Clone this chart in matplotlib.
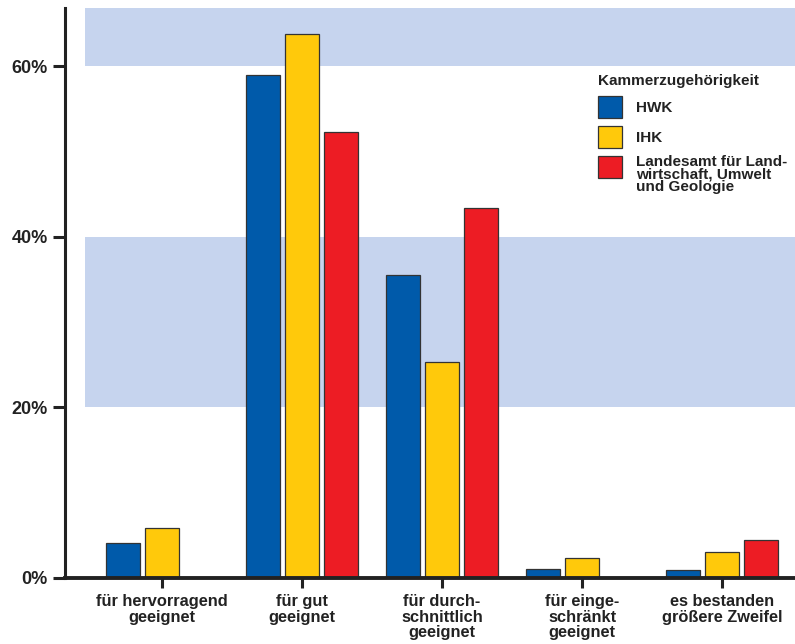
import numpy as np
import matplotlib.pyplot as plt
from matplotlib.patches import Rectangle

# Kategorien und Anteile (in %) je Kammer
kategorien = ['für hervorragend\ngeeignet', 'für gut\ngeeignet', 'für durch-\nschnittlich\ngeeignet',
              'für einge-\nschränkt\ngeeignet', 'es bestanden\ngrößere Zweifel']
hwk = [4.1, 59.0, 35.5, 1.1, 0.95]
ihk = [5.9, 63.8, 25.3, 2.3, 3.0]
landesamt = [np.nan, 52.3, 43.4, np.nan, 4.45]

serien = ['HWK', 'IHK', 'Landesamt für Land-\nwirtschaft, Umwelt\nund Geologie']
farben = ['#005aaa', '#ffc90b', '#ed1c24']
y_ticks = [0, 20, 40, 60]

plt.rcParams['font.family'] = ['Liberation Sans', 'DejaVu Sans']

W, H = 795, 644
fig = plt.figure(figsize=(W / 100, H / 100), dpi=100)
ax = fig.add_axes([65 / W, 1 - 578 / H, 1 - 65 / W, (578 - 8) / H])

# Hintergrundbänder
band = '#c6d4ee'
ax.axhspan(20, 40, xmin=0.027, xmax=1, color=band, lw=0, zorder=0)
ax.axhspan(60, 70, xmin=0.027, xmax=1, color=band, lw=0, zorder=0)

x = np.arange(len(kategorien))
breite = 0.243
abstand = 0.279
for i, (werte, farbe) in enumerate(zip([hwk, ihk, landesamt], farben)):
    ax.bar(x + (i - 1) * abstand, werte, width=breite, color=farbe,
           edgecolor='#333333', linewidth=0.9, zorder=2)

ax.set_xlim(-0.693, 4.52)
ax.set_ylim(0, 66.8)

ax.set_yticks(y_ticks)
ax.set_yticklabels([f'{v}%' for v in y_ticks], fontsize=13, fontweight='bold', color='#222222')
ax.set_xticks(x)
ax.set_xticklabels(kategorien, fontsize=11.8, fontweight='bold', color='#222222', linespacing=1.05)

for s in ['top', 'right']:
    ax.spines[s].set_visible(False)
ax.spines['left'].set_linewidth(2.2)
ax.spines['bottom'].set_linewidth(2.8)
ax.spines['left'].set_color('#222222')
ax.spines['bottom'].set_color('#222222')
ax.tick_params(axis='y', length=8.5, width=2.2, pad=4, color='#222222')
ax.tick_params(axis='x', length=7.5, width=2.2, pad=4, color='#222222')

# Legende von Hand gesetzt (Kästchen oben am Text ausgerichtet)
def fx(px):
    return px / W

def fy(py):
    return 1 - py / H

fig.text(fx(598), fy(81), 'Kammerzugehörigkeit', fontsize=11, fontweight='bold',
         color='#222222', va='center', ha='left')
kasten_oben = [96, 126, 156]
for oben, farbe, name in zip(kasten_oben, farben, serien):
    fig.patches.append(Rectangle((fx(598), fy(oben + 22)), 24 / W, 22 / H, transform=fig.transFigure,
                                 facecolor=farbe, edgecolor='#333333', linewidth=0.9))
    if '\n' in name:
        fig.text(fx(636), fy(oben - 1), name, fontsize=11, fontweight='bold', color='#222222',
                 va='top', ha='left', linespacing=0.85)
    else:
        fig.text(fx(636), fy(oben + 12), name, fontsize=11, fontweight='bold', color='#222222',
                 va='center', ha='left')

fig.savefig('out.png', dpi=100)
